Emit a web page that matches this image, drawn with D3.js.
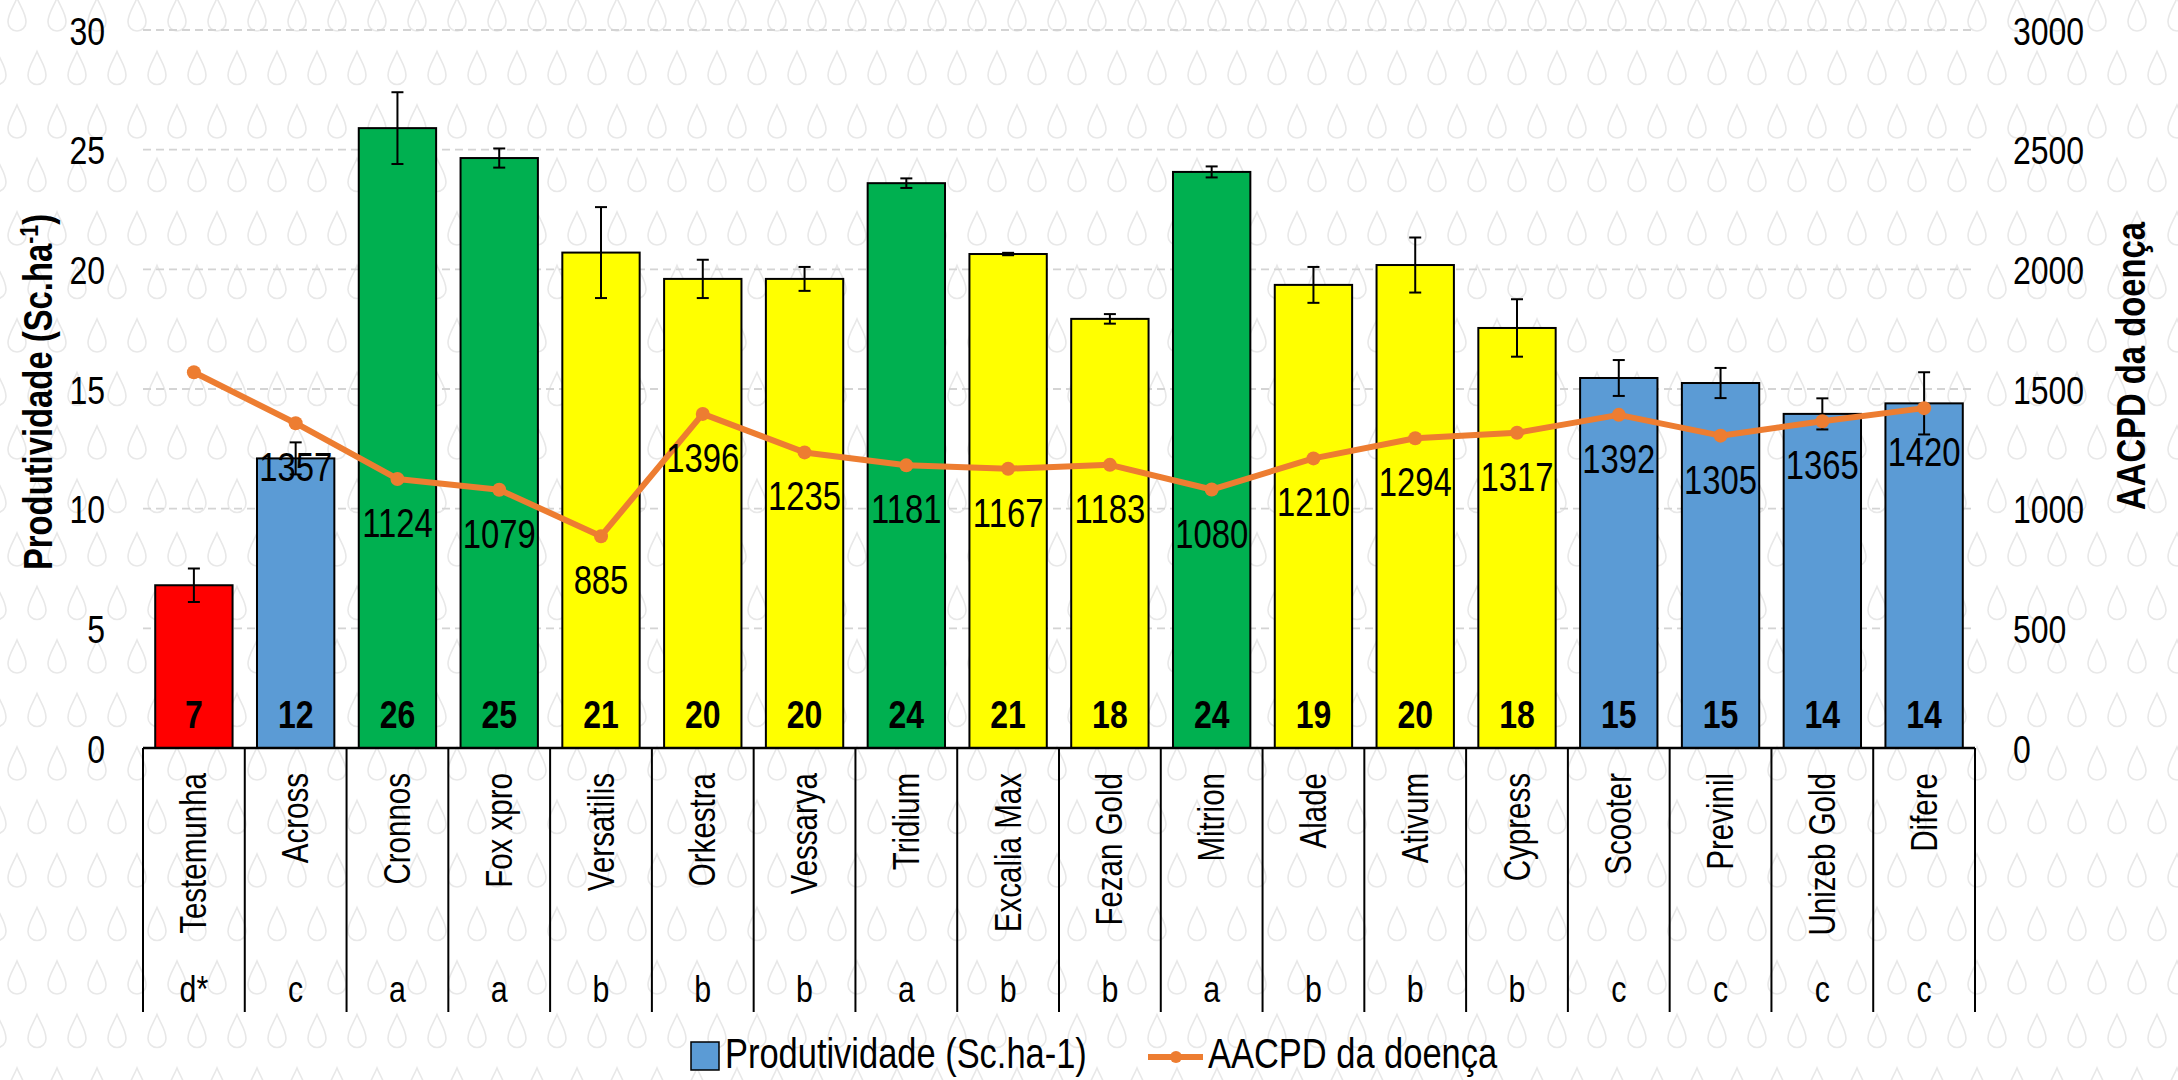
<!DOCTYPE html>
<html>
<head>
<meta charset="utf-8">
<script src="https://cdn.jsdelivr.net/npm/d3@7"></script>
<style>
  body { margin: 0; background: #fff; }
  text { font-family: 'Liberation Sans Narrow', 'Arial Narrow', 'Liberation Sans', Arial, sans-serif; fill: #000; }
</style>
</head>
<body>
<svg id="chart" width="2178" height="1080"></svg>
<script>
var categories = ["Testemunha", "Across", "Cronnos", "Fox xpro", "Versatilis", "Orkestra", "Vessarya", "Tridium",
    "Excalia Max", "Fezan Gold", "Mitrion", "Alade", "Ativum", "Cypress", "Scooter", "Previnil", "Unizeb Gold", "Difere"];
var groups = ["d*", "c", "a", "a", "b", "b", "b", "a", "b", "b", "a", "b", "b", "b", "c", "c", "c", "c"];
var produtividade = [6.8, 12.1, 25.9, 24.65, 20.7, 19.6, 19.6, 23.6, 20.64, 17.93, 24.07, 19.35, 20.18, 17.55, 15.46, 15.25, 13.96, 14.4];
var erro = [0.7, 0.67, 1.5, 0.4, 1.9, 0.8, 0.5, 0.2, 0.05, 0.2, 0.23, 0.75, 1.15, 1.2, 0.75, 0.63, 0.65, 1.3];
var aacpd = [1570, 1357, 1124, 1079, 885, 1396, 1235, 1181, 1167, 1183, 1080, 1210, 1294, 1317, 1392, 1305, 1365, 1420];
var yTicks = [0, 5, 10, 15, 20, 25, 30];
var y2Ticks = [0, 500, 1000, 1500, 2000, 2500, 3000];

var svg = d3.select('#chart');
var plotLeft = 143, plotRight = 1975, plotTop = 30, base = 748;

// background drop pattern
var defs = svg.append("defs");
var pat = defs.append("pattern")
    .attr("id", "drops")
    .attr("patternUnits", "userSpaceOnUse")
    .attr("width", 40).attr("height", 107)
    .attr("x", -3).attr("y", -5);
var drop = "M0,0 C3,8 9,15 9,24 A9,9 0 0 1 -9,24 C-9,15 -3,8 0,0 Z";
[[20, 0], [0, 53.5], [40, 53.5]].forEach(function(p) {
    pat.append("path")
        .attr("d", drop)
        .attr("transform", "translate(" + p[0] + "," + (p[1] + 3) + ")")
        .attr("fill", "none")
        .attr("stroke", "#e8e8e8")
        .attr("stroke-width", 1.6);
});
svg.append("rect").attr("width", 2178).attr("height", 1080).attr("fill", "#fff");
svg.append("rect").attr("width", 2178).attr("height", 1080).attr("fill", "url(#drops)");

var x = d3.scaleBand().domain(categories).range([plotLeft, plotRight]).paddingInner(0.24).paddingOuter(0.12);
var y = d3.scaleLinear().domain([0, 30]).range([base, plotTop]);
var y2 = d3.scaleLinear().domain([0, 3000]).range([base, plotTop]);
var color = d3.scaleOrdinal().domain(["a", "b", "c", "d*"]).range(["#00B050", "#FFFF00", "#5B9BD5", "#FF0000"]);

var data = categories.map(function(c, i) {
    return { cat: c, grp: groups[i], prod: produtividade[i], err: erro[i], aacpd: aacpd[i], i: i };
});

// gridlines
svg.append("g")
    .selectAll("line")
    .data(yTicks.filter(function(d) { return d > 0; }))
    .enter().append("line")
    .attr("x1", plotLeft).attr("x2", plotRight)
    .attr("y1", function(d) { return y(d); })
    .attr("y2", function(d) { return y(d); })
    .attr("stroke", "#d4d4d4")
    .attr("stroke-width", 1.8)
    .attr("stroke-dasharray", "8,5");

// axis labels
var gy = svg.append("g")
    .attr("transform", "translate(105,0)")
    .call(d3.axisLeft(y).tickValues(yTicks).tickFormat(d3.format("d")).tickSize(0).tickPadding(0));
gy.select(".domain").remove();
gy.selectAll("text").attr("font-size", 39).attr("font-family", null).attr("dy", "0.36em");

var gy2 = svg.append("g")
    .attr("transform", "translate(2013,0)")
    .call(d3.axisRight(y2).tickValues(y2Ticks).tickFormat(d3.format("d")).tickSize(0).tickPadding(0));
gy2.select(".domain").remove();
gy2.selectAll("text").attr("font-size", 39).attr("font-family", null).attr("dy", "0.36em");

// axis titles
var t1 = svg.append("text")
    .attr("transform", "translate(52,392) rotate(-90)")
    .attr("text-anchor", "middle")
    .attr("font-size", 40)
    .attr("font-weight", "bold");
t1.append("tspan").text("Produtividade (Sc.ha");
t1.append("tspan").attr("font-size", 26).attr("dy", -14).text("-1");
t1.append("tspan").attr("dy", 14).text(")");

svg.append("text")
    .attr("transform", "translate(2145,366) rotate(-90)")
    .attr("text-anchor", "middle")
    .attr("font-size", 40)
    .attr("font-weight", "bold")
    .text("AACPD da doença");

// bars
svg.append("g")
    .selectAll("rect")
    .data(data)
    .enter().append("rect")
    .attr("x", function(d) { return x(d.cat); })
    .attr("y", function(d) { return y(d.prod); })
    .attr("width", x.bandwidth())
    .attr("height", function(d) { return base - y(d.prod); })
    .attr("fill", function(d) { return color(d.grp); })
    .attr("stroke", "#000")
    .attr("stroke-width", 2);

// error bars
var eb = svg.append("g").attr("stroke", "#000").attr("stroke-width", 2);
data.forEach(function(d) {
    var cx = x(d.cat) + x.bandwidth() / 2;
    eb.append("line").attr("x1", cx).attr("x2", cx)
        .attr("y1", y(d.prod + d.err)).attr("y2", y(d.prod - d.err));
    eb.append("line").attr("x1", cx - 6).attr("x2", cx + 6)
        .attr("y1", y(d.prod + d.err)).attr("y2", y(d.prod + d.err));
    eb.append("line").attr("x1", cx - 6).attr("x2", cx + 6)
        .attr("y1", y(d.prod - d.err)).attr("y2", y(d.prod - d.err));
});

// bar value labels
svg.append("g")
    .selectAll("text")
    .data(data)
    .enter().append("text")
    .attr("x", function(d) { return x(d.cat) + x.bandwidth() / 2; })
    .attr("y", base - 20)
    .attr("text-anchor", "middle")
    .attr("font-size", 39)
    .attr("font-weight", "bold")
    .text(function(d) { return Math.round(d.prod); });

// x axis: baseline, separators, names, letters
svg.append("line")
    .attr("x1", plotLeft).attr("x2", plotRight)
    .attr("y1", base).attr("y2", base)
    .attr("stroke", "#000").attr("stroke-width", 2.5);

svg.append("g")
    .selectAll("line")
    .data(d3.range(categories.length + 1))
    .enter().append("line")
    .attr("x1", function(i) { return plotLeft + i * x.step(); })
    .attr("x2", function(i) { return plotLeft + i * x.step(); })
    .attr("y1", base).attr("y2", 1012)
    .attr("stroke", "#000").attr("stroke-width", 2);

svg.append("g")
    .selectAll("text")
    .data(data)
    .enter().append("text")
    .attr("transform", function(d) {
        return "translate(" + (x(d.cat) + x.bandwidth() / 2) + ",773) rotate(-90)";
    })
    .attr("text-anchor", "end")
    .attr("dy", "0.35em")
    .attr("font-size", 36)
    .text(function(d) { return d.cat; });

svg.append("g")
    .selectAll("text")
    .data(data)
    .enter().append("text")
    .attr("x", function(d) { return x(d.cat) + x.bandwidth() / 2; })
    .attr("y", 1002)
    .attr("text-anchor", "middle")
    .attr("font-size", 37)
    .text(function(d) { return d.grp; });

// AACPD line
var line = d3.line()
    .x(function(d) { return x(d.cat) + x.bandwidth() / 2; })
    .y(function(d) { return y2(d.aacpd); });

svg.append("path")
    .datum(data)
    .attr("d", line)
    .attr("fill", "none")
    .attr("stroke", "#ED7D31")
    .attr("stroke-width", 6)
    .attr("stroke-linejoin", "round");

svg.append("g")
    .selectAll("circle")
    .data(data)
    .enter().append("circle")
    .attr("cx", function(d) { return x(d.cat) + x.bandwidth() / 2; })
    .attr("cy", function(d) { return y2(d.aacpd); })
    .attr("r", 7)
    .attr("fill", "#ED7D31");

// no label on the first point in the original
svg.append("g")
    .selectAll("text")
    .data(data.filter(function(d) { return d.i > 0; }))
    .enter().append("text")
    .attr("x", function(d) { return x(d.cat) + x.bandwidth() / 2; })
    .attr("y", function(d) { return y2(d.aacpd) + 58; })
    .attr("text-anchor", "middle")
    .attr("font-size", 40)
    .text(function(d) { return d.aacpd; });

// legend
var lg = svg.append("g");
lg.append("rect")
    .attr("x", 691).attr("y", 1042).attr("width", 28).attr("height", 28)
    .attr("fill", "#5B9BD5").attr("stroke", "#000").attr("stroke-width", 1.5);
lg.append("text").attr("x", 725).attr("y", 1068).attr("font-size", 42).text("Produtividade (Sc.ha-1)");
lg.append("line")
    .attr("x1", 1148).attr("x2", 1203).attr("y1", 1057).attr("y2", 1057)
    .attr("stroke", "#ED7D31").attr("stroke-width", 6);
lg.append("circle").attr("cx", 1176).attr("cy", 1057).attr("r", 6).attr("fill", "#ED7D31");
lg.append("text").attr("x", 1208).attr("y", 1068).attr("font-size", 42).text("AACPD da doença");

// no narrow font installed: squeeze glyphs to look like Arial Narrow
svg.selectAll("text").each(function() {
    var len = this.getComputedTextLength();
    this.setAttribute("textLength", len * 0.82);
    this.setAttribute("lengthAdjust", "spacingAndGlyphs");
});
</script>
</body>
</html>
